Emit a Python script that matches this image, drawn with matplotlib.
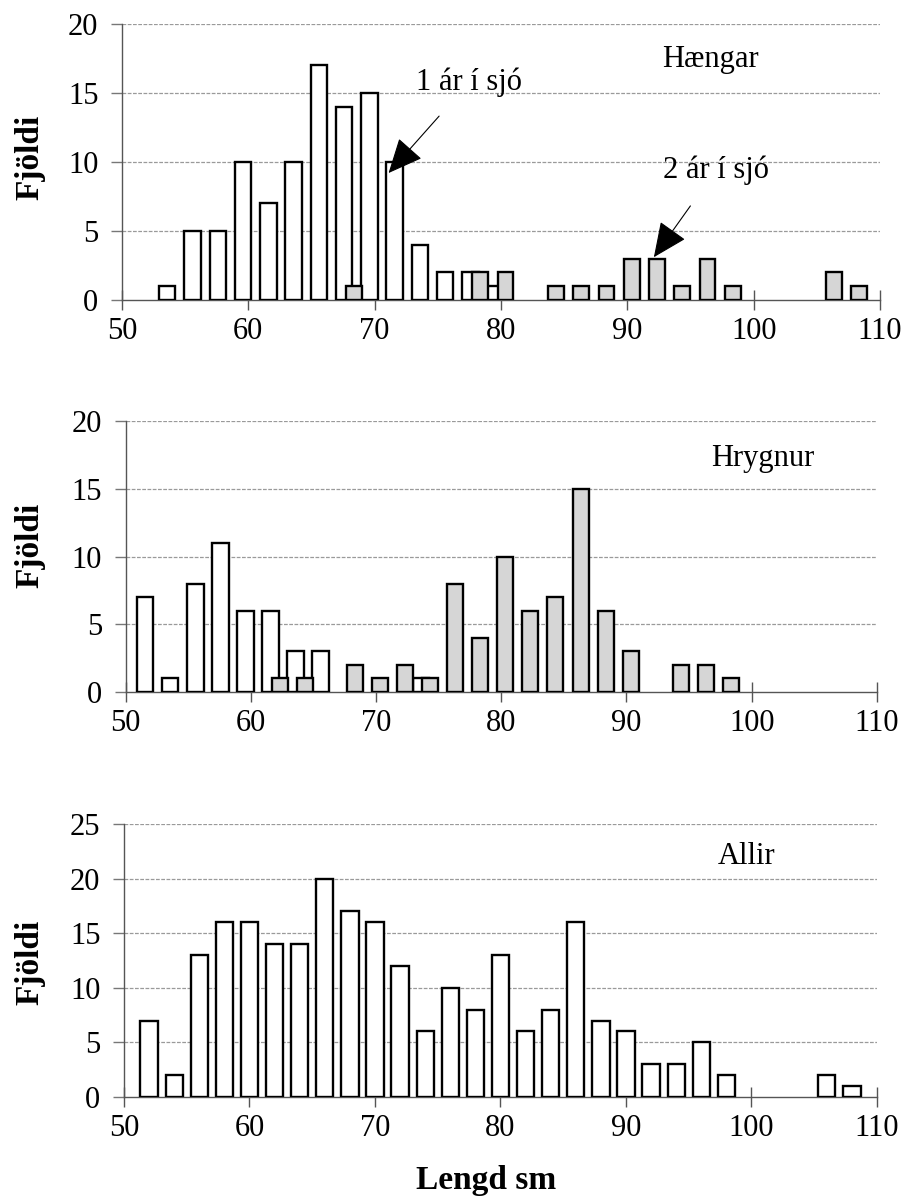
import numpy as np
import matplotlib.pyplot as plt

plt.rcParams['font.family'] = 'Liberation Serif'

# lengdarflokkar (sm)
lengd = list(range(52, 110, 2))

# fjöldi í hverjum flokki, 52 ... 108
haengar_1ar = [0, 1, 5, 5, 10, 7, 10, 17, 14, 15, 10, 4, 2, 2, 1, 0, 0, 0, 0, 0, 0, 0, 0, 0, 0, 0, 0, 0, 0]
haengar_2ar = [0, 0, 0, 0, 0, 0, 0, 0, 1, 0, 0, 0, 0, 2, 2, 0, 1, 1, 1, 3, 3, 1, 3, 1, 0, 0, 0, 2, 1]
hrygnur_1ar = [7, 1, 8, 11, 6, 6, 3, 3, 0, 0, 0, 1, 0, 0, 0, 0, 0, 0, 0, 0, 0, 0, 0, 0, 0, 0, 0, 0, 0]
hrygnur_2ar = [0, 0, 0, 0, 0, 1, 1, 0, 2, 1, 2, 1, 8, 4, 10, 6, 7, 15, 6, 3, 0, 2, 2, 1, 0, 0, 0, 0, 0]
allir = [7, 2, 13, 16, 16, 14, 14, 20, 17, 16, 12, 6, 10, 8, 13, 6, 8, 16, 7, 6, 3, 3, 5, 2, 0, 0, 0, 2, 1]

W, H = 911, 1197
GREY = '#d6d6d6'
FS = 22


def bars(ax, values, shift, width, color):
    x = [l + shift for l, v in zip(lengd, values) if v > 0]
    y = [v for v in values if v > 0]
    ax.bar(x, y, width=width, color=color, edgecolor='black', linewidth=1.7, zorder=3)


def setup(ax, ymax, step):
    ax.set_xlim(50, 110)
    ax.set_ylim(0, ymax)
    ax.set_xticks(range(50, 111, 10))
    ax.set_yticks(range(0, ymax + 1, step))
    for s in ['top', 'right']:
        ax.spines[s].set_visible(False)
    ax.spines['left'].set_color('#555555')
    ax.spines['bottom'].set_color('#555555')
    ax.spines['left'].set_linewidth(1.0)
    ax.spines['bottom'].set_linewidth(1.0)
    ax.tick_params(axis='y', direction='out', length=8, width=1.0, color='#777777',
                   labelsize=FS, pad=9)
    ax.tick_params(axis='x', direction='inout', length=14, width=1.0, color='#555555',
                   labelsize=FS, pad=5)
    for yv in range(0, ymax + 1, step):
        if yv > 0:
            ax.axhline(yv, color='#9a9a9a', lw=0.9, ls=(0, (3, 1.2)), zorder=1)


def axes_px(left, right, top, bottom):
    return fig.add_axes([left / W, 1 - bottom / H, (right - left) / W, (bottom - top) / H])


fig = plt.figure(figsize=(W / 100, H / 100), dpi=100)

arrow = dict(arrowstyle='-|>,head_length=1.0,head_width=0.45', color='black',
             lw=0.8, shrinkA=16, shrinkB=0)

# Hængar
ax1 = axes_px(122, 880, 24, 300)
setup(ax1, 20, 5)
bars(ax1, haengar_1ar, -0.42, 1.3, 'white')
bars(ax1, haengar_2ar, 0.35, 1.25, GREY)
ax1.text(96.6, 17.4, 'Hængar', fontsize=FS, ha='center', va='center')
ax1.annotate('1 ár í sjó', xy=(71.1, 9.2), xytext=(77.5, 15.8), fontsize=FS,
             ha='center', va='center', zorder=5, arrowprops=arrow)
ax1.annotate('2 ár í sjó', xy=(92.1, 3.1), xytext=(97.0, 9.4), fontsize=FS,
             ha='center', va='center', zorder=5, arrowprops=arrow)

# Hrygnur
ax2 = axes_px(125.5, 877, 421, 692)
setup(ax2, 20, 5)
bars(ax2, hrygnur_1ar, -0.42, 1.3, 'white')
bars(ax2, hrygnur_2ar, 0.33, 1.28, GREY)
ax2.text(100.9, 17.2, 'Hrygnur', fontsize=FS, ha='center', va='center')

# Allir
ax3 = axes_px(124, 877, 824, 1097)
setup(ax3, 25, 5)
bars(ax3, allir, 0.0, 1.38, 'white')
ax3.text(99.6, 22.0, 'Allir', fontsize=FS, ha='center', va='center')

for yc in [157, 545, 962]:
    fig.text(30 / W, 1 - yc / H, 'Fjöldi', rotation=90, fontsize=24, fontweight='bold',
             ha='center', va='center')
fig.text(486 / W, 1 - 1181 / H, 'Lengd sm', fontsize=24, fontweight='bold',
         ha='center', va='center')

plt.savefig('out.png', dpi=100)
